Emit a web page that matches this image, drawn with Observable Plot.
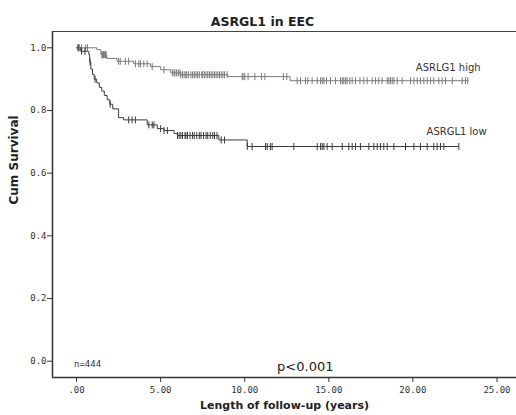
<!DOCTYPE html>
<html>
<head>
<meta charset="utf-8">
<script src="https://cdn.jsdelivr.net/npm/d3@7"></script>
<script src="https://cdn.jsdelivr.net/npm/@observablehq/plot@0.6"></script>
<style>
  html, body { margin: 0; padding: 0; background: #fff; }
  #chart svg { display: block; }
</style>
</head>
<body>
<div id="chart"></div>
<script>
// ---- data ----
const title = "ASRGL1 in EEC";
const xLabel = "Length of follow-up (years)";
const yLabel = "Cum Survival";
const xTicks = [0, 5, 10, 15, 20, 25];
const yTicks = [0, 0.2, 0.4, 0.6, 0.8, 1.0];

const highName = "ASRLG1 high";
const highTimes = [0, 1.2, 1.45, 1.8, 2.4, 3.4, 4.4, 5.0, 5.6, 6.2, 9.0, 12.7, 23.3];
const highSurv  = [1.0, 0.994, 0.978, 0.966, 0.957, 0.949, 0.940, 0.930, 0.920, 0.914, 0.908, 0.895, 0.895];
const highCensor = [0.08, 0.18, 0.3, 0.54, 0.65, 1.5, 1.55, 1.6, 1.65, 1.72, 1.76,
  2.5, 2.6, 2.9, 3.1, 3.5, 3.7, 3.8, 4.0, 4.2, 4.5, 5.2,
  5.7, 5.8, 5.85, 5.95, 6.05, 6.15, 6.2, 6.3, 6.4, 6.5, 6.55, 6.65, 6.8, 6.9, 7.0, 7.1, 7.2,
  7.3, 7.45, 7.5, 7.6, 7.7, 7.8, 7.9, 8.0, 8.1, 8.2, 8.3, 8.4, 8.5, 8.6, 8.7, 8.8, 8.95,
  9.85, 9.9, 10.0, 10.2, 10.6, 11.0, 11.2, 12.3, 12.5,
  13.12, 13.32, 13.61, 13.75, 14.01, 14.31, 14.51, 14.61, 14.71, 14.86, 15.10, 15.40,
  15.70, 15.80, 15.89, 15.99, 16.09, 16.25, 16.39, 16.59, 16.85, 17.08, 17.28, 17.58,
  17.78, 17.97, 18.17, 18.47, 18.57, 18.67, 18.77, 18.87, 19.07, 19.36, 19.86, 20.06,
  20.26, 20.45, 20.65, 20.85, 21.05, 21.24, 21.54, 21.74, 21.94, 22.34, 22.93, 23.13, 23.26];

const lowName = "ASRGL1 low";
const lowTimes = [0, 0.25, 0.73, 0.78, 0.85, 0.95, 1.05, 1.2, 1.35, 1.5, 1.65, 1.82, 1.98, 2.15, 2.5, 2.8, 4.2, 4.8, 5.2, 5.8, 6.0, 8.46, 10.15, 22.73];
const lowSurv  = [1.0, 0.989, 0.978, 0.955, 0.932, 0.915, 0.900, 0.888, 0.874, 0.862, 0.848, 0.834, 0.820, 0.805, 0.777, 0.770, 0.754, 0.742, 0.736, 0.726, 0.720, 0.706, 0.685, 0.685];
const lowCensor = [0.1, 0.3, 0.5, 0.8, 1.1, 2.0, 3.1, 3.3, 3.5, 4.3, 4.5, 4.6, 5.0, 5.2, 5.4,
  6.0, 6.1, 6.2, 6.3, 6.45, 6.5, 6.6, 6.75, 6.9, 7.0, 7.15, 7.3, 7.4, 7.55, 7.7, 7.8, 7.95, 8.1, 8.2, 8.35,
  8.6, 8.8, 10.15,
  10.44, 11.24, 11.34, 11.53, 11.63, 12.92, 14.31, 14.51, 14.61, 14.71, 14.90, 15.20,
  15.80, 16.19, 16.39, 16.59, 16.88, 17.38, 17.68, 17.88, 18.07, 18.27, 18.47, 18.87,
  19.56, 20.06, 20.45, 20.85, 21.24, 21.44, 21.64, 21.84, 22.73];

const nText = "n=444";
const pText = "p<0.001";

// ---- build tables ----
function steps(times, surv, name) {
  return times.map((t, i) => ({t, s: surv[i], g: name}));
}
function survAt(times, surv, t) {
  let v = surv[0];
  for (let i = 0; i < times.length; i++) if (times[i] <= t) v = surv[i];
  return v;
}
const highSteps = steps(highTimes, highSurv, highName);
const lowSteps = steps(lowTimes, lowSurv, lowName);
const highC = highCensor.map(t => ({t, s: survAt(highTimes, highSurv, t)}));
const lowC = lowCensor.map(t => ({t, s: survAt(lowTimes, lowSurv, t)}));

const vbar = {
  draw(context, size) {
    const r = Math.sqrt(size / Math.PI);
    context.moveTo(0, -r); context.lineTo(0, r);
  }
};

const highColor = "#7a7a7a";
const lowColor = "#3a3a3a";
const mono = "'DejaVu Sans Mono', monospace";
const sans = "'DejaVu Sans', sans-serif";

const chart = Plot.plot({
  width: 516,
  height: 415,
  marginLeft: 52,
  marginRight: 0,
  marginTop: 31,
  marginBottom: 38,
  style: {fontFamily: mono, fontSize: "9px", color: "#333", background: "#fff"},
  x: {domain: [-1.43, 26.16]},
  y: {domain: [-0.052, 1.052]},
  marks: [
    Plot.ruleY([1.052], {stroke: "#444", strokeWidth: 1.2}),
    Plot.ruleX([-1.43], {stroke: "#333", strokeWidth: 1.5}),
    Plot.ruleY([-0.052], {stroke: "#333", strokeWidth: 1.5}),
    Plot.axisX({ticks: xTicks, tickFormat: d => d === 0 ? ".00" : d.toFixed(2), tickSize: 5, tickPadding: 4, label: null, fontFamily: mono, fontSize: 9, stroke: "#333"}),
    Plot.axisY({ticks: yTicks, tickFormat: d => d.toFixed(1), tickSize: 5, tickPadding: 1, label: null, fontFamily: mono, fontSize: 9, stroke: "#333"}),
    Plot.line(highSteps, {x: "t", y: "s", curve: "step-after", stroke: highColor, strokeWidth: 1}),
    Plot.line(lowSteps, {x: "t", y: "s", curve: "step-after", stroke: lowColor, strokeWidth: 1}),
    Plot.dot(highC, {x: "t", y: "s", symbol: vbar, r: 3.5, stroke: highColor, strokeWidth: 1, fill: "none"}),
    Plot.dot(lowC, {x: "t", y: "s", symbol: vbar, r: 3.5, stroke: lowColor, strokeWidth: 1, fill: "none"}),
    Plot.text([highName], {x: 22.1, y: 0.937, text: d => d, fontFamily: sans, fontSize: 10, fill: "#333"}),
    Plot.text([lowName], {x: 22.6, y: 0.731, text: d => d, fontFamily: sans, fontSize: 10, fill: "#333"}),
    Plot.text([nText], {x: -0.15, y: -0.008, text: d => d, textAnchor: "start", fontFamily: mono, fontSize: 9, fill: "#333"}),
    Plot.text([pText], {x: 13.6, y: -0.018, text: d => d, fontFamily: sans, fontSize: 13, fill: "#222"}),
    Plot.text([title], {frameAnchor: "top-left", dx: 210, dy: -14, text: d => d, textAnchor: "middle", fontFamily: sans, fontWeight: "bold", fontSize: 12.5, fill: "#222"}),
    Plot.text([xLabel], {frameAnchor: "bottom", dy: 31, text: d => d, fontFamily: sans, fontWeight: "bold", fontSize: 11, fill: "#222"}),
    Plot.text([yLabel], {frameAnchor: "left", dx: -38, rotate: -90, text: d => d, fontFamily: sans, fontWeight: "bold", fontSize: 12, fill: "#222"})
  ]
});
document.getElementById("chart").appendChild(chart);
</script>
</body>
</html>
